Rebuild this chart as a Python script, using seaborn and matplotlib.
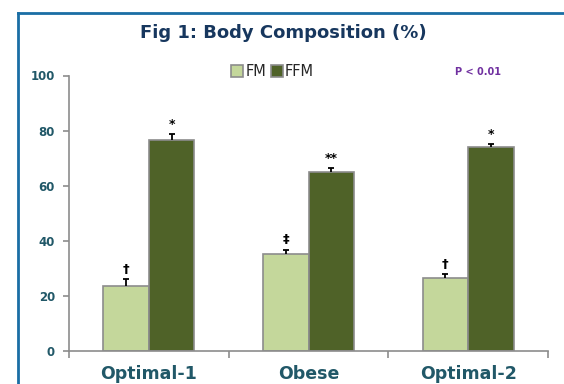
import matplotlib
matplotlib.use("Agg")
import matplotlib.pyplot as plt
from matplotlib.lines import Line2D
import numpy as np
import pandas as pd
import seaborn as sns

# Body composition by group (% of body mass)
groups = ["Optimal-1", "Obese", "Optimal-2"]
components = ["FM", "FFM"]
fm_values = [23.7, 35.3, 26.5]
ffm_values = [76.6, 64.9, 73.9]
fm_err = [2.4, 1.45, 1.3]
ffm_err = [2.2, 1.55, 1.2]
fm_marks = ["\u2020", "\u2021", "\u2020"]
ffm_marks = ["*", "**", "*"]
y_ticks = [0, 20, 40, 60, 80, 100]

df = pd.DataFrame({
    "group": groups * 2,
    "component": ["FM"] * 3 + ["FFM"] * 3,
    "value": fm_values + ffm_values,
})

sns.set_theme(style="white")
plt.rcParams["font.family"] = ["DejaVu Sans"]

fig = plt.figure(figsize=(5.64, 3.84), dpi=100)
ax = fig.add_axes([69 / 564, 1 - 351 / 384, (548 - 69) / 564, (351 - 75.5) / 384])

palette = {"FM": "#c4d79b", "FFM": "#4f6228"}
sns.barplot(data=df, x="group", y="value", hue="component", order=groups,
            hue_order=components, palette=palette, width=0.57,
            edgecolor="#8c8c8c", linewidth=1.2, errorbar=None, ax=ax,
            saturation=1)

# upward-only error bars and significance markers on top of each bar
bars = [p for p in ax.patches if p.get_height() > 0]
bars_fm = sorted(bars[:3], key=lambda p: p.get_x())
bars_ffm = sorted(bars[3:], key=lambda p: p.get_x())
for blist, vals, errs, marks in [(bars_fm, fm_values, fm_err, fm_marks),
                                 (bars_ffm, ffm_values, ffm_err, ffm_marks)]:
    xs = [p.get_x() + p.get_width() / 2 for p in blist]
    eb = ax.errorbar(xs, vals, yerr=[np.zeros(3), errs], fmt="none",
                     ecolor="black", elinewidth=1.3, capsize=2.5, capthick=1.3)
    eb[1][0].set_visible(False)
    for x, v, e, m in zip(xs, vals, errs, marks):
        ax.text(x, v + e + 1.2, m, ha="center", va="bottom",
                fontsize=9 if m.startswith("*") else 9.5,
                fontweight="bold", color="black")

ax.set_ylim(0, 100)
ax.set_xlim(-0.5, 2.5)
ax.set_yticks(y_ticks)
ax.set_yticklabels([str(t) for t in y_ticks])
ax.set_xlabel("")
ax.set_ylabel("")

for side in ["top", "right"]:
    ax.spines[side].set_visible(False)
for side in ["left", "bottom"]:
    ax.spines[side].set_color("#8c8c8c")
    ax.spines[side].set_linewidth(1.2)

ax.tick_params(axis="y", which="major", left=True, length=4, width=1.2,
               color="#8c8c8c", labelsize=8.5, labelcolor="#215868", pad=6)
ax.tick_params(axis="x", which="major", bottom=False, labelsize=12.5,
               labelcolor="#215868", pad=4)
ax.set_xticks([-0.5, 0.5, 1.5, 2.5], minor=True)
ax.tick_params(axis="x", which="minor", bottom=True, length=5, width=1.2,
               color="#8c8c8c")
for lab in ax.get_yticklabels() + ax.get_xticklabels():
    lab.set_fontweight("bold")

# legend
handles = [Line2D([], [], marker="s", linestyle="none", markersize=8,
                  markerfacecolor=palette[c], markeredgecolor="#8c8c8c",
                  markeredgewidth=1.2) for c in components]
leg = ax.legend(handles, components, loc="center",
                bbox_to_anchor=(273 / 564, 1 - 72 / 384),
                bbox_transform=fig.transFigure, ncol=2, frameon=False,
                handlelength=0.7, handletextpad=0.2, columnspacing=0.4,
                fontsize=10.5)

fig.text(478 / 564, 1 - 72 / 384, "P < 0.01", ha="center", va="center",
         fontsize=7, fontweight="bold", color="#7030a0")

fig.text(283 / 564, 1 - 33 / 384, "Fig 1: Body Composition (%)",
         ha="center", va="center", fontsize=13, fontweight="bold",
         color="#17375e")

# panel frame
frame_kw = dict(color="#1a6ea5", linewidth=2.0, transform=fig.transFigure,
                solid_capstyle="projecting")
fig.add_artist(Line2D([17.5 / 564, 17.5 / 564], [1 - 13 / 384, -0.05], **frame_kw))
fig.add_artist(Line2D([17.5 / 564, 1.05], [1 - 13 / 384, 1 - 13 / 384], **frame_kw))

fig.savefig("out.png", dpi=100)
